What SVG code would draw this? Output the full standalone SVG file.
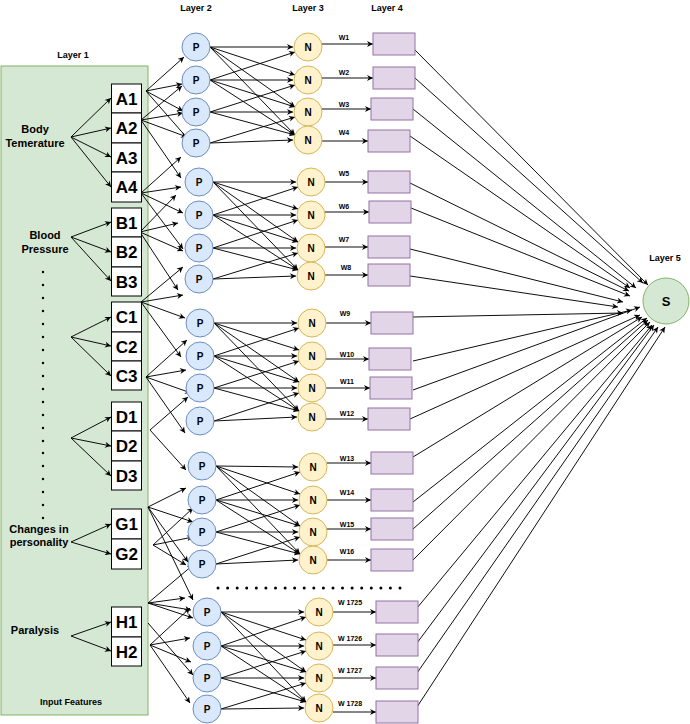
<svg xmlns="http://www.w3.org/2000/svg" width="690" height="724" viewBox="0 0 690 724">
<defs>
<marker id="ar" viewBox="0 0 10 10" refX="10" refY="5" markerWidth="7" markerHeight="6" markerUnits="userSpaceOnUse" orient="auto">
<path d="M0,0 L10,5 L0,10 L3,5 z" fill="#000"/>
</marker>
<style>
text{font-family:"Liberation Sans",Arial,sans-serif;font-weight:bold;fill:#000;text-anchor:middle}
.lt{font-size:9px}
.ft{font-size:11px}
.bx{font-size:17px}
.nd{font-size:10px}
.w{font-size:7px}
.box{fill:#fff;stroke:#000;stroke-width:1}
.p{fill:#dae8fc;stroke:#6c8ebf;stroke-width:1}
.n{fill:#fff2cc;stroke:#d6b656;stroke-width:1}
.r{fill:#e1d5e7;stroke:#9673a6;stroke-width:1}
.s{fill:#d5e8d4;stroke:#82b366;stroke-width:1}
#connectors path{fill:none;stroke:#000;stroke-width:0.95;marker-end:url(#ar)}
.dot{fill:#000}
</style>
</defs>
<rect width="690" height="724" fill="#fff"/>

<g id="layer1-panel">
<rect x="1" y="66" width="147" height="649" class="s"/>
<text class="lt" x="73" y="58">Layer 1</text>
<text class="lt" x="71" y="705">Input Features</text>
</g>
<g id="titles">
<text class="lt" x="196" y="11">Layer 2</text>
<text class="lt" x="308" y="11">Layer 3</text>
<text class="lt" x="387" y="11">Layer 4</text>
<text class="lt" x="665" y="261">Layer 5</text>
</g>

<g id="feature-labels">
<text class="ft" x="35" y="133">Body</text>
<text class="ft" x="35" y="147">Temerature</text>
<text class="ft" x="45" y="239">Blood</text>
<text class="ft" x="45" y="253">Pressure</text>
<text class="ft" x="39" y="533">Changes in</text>
<text class="ft" x="39" y="546">personality</text>
<text class="ft" x="35" y="634">Paralysis</text>
</g>

<g id="vdots">
<circle class="dot" cx="43" cy="272" r="1.2"/><circle class="dot" cx="43" cy="285" r="1.2"/><circle class="dot" cx="43" cy="298" r="1.2"/><circle class="dot" cx="43" cy="311" r="1.2"/><circle class="dot" cx="43" cy="324" r="1.2"/><circle class="dot" cx="43" cy="337" r="1.2"/><circle class="dot" cx="43" cy="350" r="1.2"/><circle class="dot" cx="43" cy="363" r="1.2"/><circle class="dot" cx="43" cy="376" r="1.2"/><circle class="dot" cx="43" cy="389" r="1.2"/><circle class="dot" cx="43" cy="402" r="1.2"/><circle class="dot" cx="43" cy="415" r="1.2"/><circle class="dot" cx="43" cy="428" r="1.2"/><circle class="dot" cx="43" cy="441" r="1.2"/><circle class="dot" cx="43" cy="453" r="1.2"/><circle class="dot" cx="43" cy="466" r="1.2"/><circle class="dot" cx="43" cy="479" r="1.2"/><circle class="dot" cx="43" cy="492" r="1.2"/><circle class="dot" cx="43" cy="505" r="1.2"/><circle class="dot" cx="43" cy="518" r="1.2"/>
</g>
<g id="hdots">
<circle class="dot" cx="218" cy="588" r="1.5"/><circle class="dot" cx="227.6" cy="588" r="1.5"/><circle class="dot" cx="237.2" cy="588" r="1.5"/><circle class="dot" cx="246.7" cy="588" r="1.5"/><circle class="dot" cx="256.3" cy="588" r="1.5"/><circle class="dot" cx="265.9" cy="588" r="1.5"/><circle class="dot" cx="275.5" cy="588" r="1.5"/><circle class="dot" cx="285.1" cy="588" r="1.5"/><circle class="dot" cx="294.6" cy="588" r="1.5"/><circle class="dot" cx="304.2" cy="588" r="1.5"/><circle class="dot" cx="313.8" cy="588" r="1.5"/><circle class="dot" cx="323.4" cy="588" r="1.5"/><circle class="dot" cx="333" cy="588" r="1.5"/><circle class="dot" cx="342.5" cy="588" r="1.5"/><circle class="dot" cx="352.1" cy="588" r="1.5"/><circle class="dot" cx="361.7" cy="588" r="1.5"/><circle class="dot" cx="371.3" cy="588" r="1.5"/><circle class="dot" cx="380.9" cy="588" r="1.5"/><circle class="dot" cx="390.4" cy="588" r="1.5"/><circle class="dot" cx="400" cy="588" r="1.5"/>
</g>

<g id="connectors">
<path d="M71,137 L111,98"/><path d="M71,137 L111,128"/><path d="M71,137 L111,157"/><path d="M71,137 L111,187"/>
<path d="M71,237 L111,222"/><path d="M71,237 L111,252"/><path d="M71,237 L111,281"/>
<path d="M71,337 L111,317"/><path d="M71,337 L111,346"/><path d="M71,337 L111,376"/>
<path d="M71,438 L111,417"/><path d="M71,438 L111,446"/><path d="M71,438 L111,476"/>
<path d="M71,542 L111,524"/><path d="M71,542 L111,554"/>
<path d="M71,636 L111,622"/><path d="M71,636 L111,651"/>
<path d="M146,91 L184,57"/><path d="M146,91 L182,84"/><path d="M146,91 L183,111"/><path d="M146,91 L188,139"/>
<path d="M141,120 L182,86"/><path d="M141,120 L183,113"/><path d="M141,120 L187,137"/><path d="M141,120 L181,178"/>
<path d="M141,193 L181,157"/><path d="M141,193 L181,187"/><path d="M141,193 L183,213"/><path d="M141,193 L183,249"/>
<path d="M140,232 L176,195"/><path d="M140,232 L178,223"/><path d="M140,232 L183,251"/><path d="M140,232 L178,290"/>
<path d="M141,302 L183,267"/><path d="M141,302 L183,295"/><path d="M141,302 L185,318"/><path d="M141,302 L181,357"/>
<path d="M146,377 L187,340"/><path d="M146,377 L186,370"/><path d="M146,377 L191,393"/><path d="M146,377 L185,433"/>
<path d="M150,430 L188,397"/><path d="M150,430 L186,470"/>
<path d="M148,507 L186,488"/><path d="M148,507 L193,522"/><path d="M148,507 L188,562"/><path d="M148,507 L193,600"/>
<path d="M153,545 L193,508"/><path d="M153,545 L193,537"/><path d="M153,545 L186,565"/>
<path d="M148,603 L193,565"/><path d="M148,603 L185,598"/><path d="M148,603 L191,610"/><path d="M148,603 L193,618"/>
<path d="M148,623 L193,675"/>
<path d="M150,645 L190,608"/><path d="M150,645 L190,638"/><path d="M150,645 L191,662"/><path d="M150,645 L190,703"/>
<path d="M210,47 L293,47"/><path d="M210,47 L295,75"/><path d="M210,47 L295,107"/><path d="M210,47 L295,135"/>
<path d="M210,80 L295,52"/><path d="M210,80 L293,80"/><path d="M210,80 L295,107"/><path d="M210,80 L295,135"/>
<path d="M210,112 L295,85"/><path d="M210,112 L293,112"/><path d="M210,112 L295,135"/>
<path d="M210,143 L295,117"/><path d="M210,143 L293,140"/>
<path d="M213,182 L296,182"/><path d="M213,182 L298,209"/><path d="M213,182 L298,242"/><path d="M213,182 L298,270"/>
<path d="M213,215 L298,187"/><path d="M213,215 L296,215"/><path d="M213,215 L298,242"/><path d="M213,215 L298,270"/>
<path d="M213,248 L298,220"/><path d="M213,248 L296,248"/><path d="M213,248 L298,270"/>
<path d="M213,279 L298,253"/><path d="M213,279 L296,276"/>
<path d="M214,323 L297,323"/><path d="M214,323 L299,350"/><path d="M214,323 L299,382"/><path d="M214,323 L299,411"/>
<path d="M214,356 L299,328"/><path d="M214,356 L297,356"/><path d="M214,356 L299,382"/><path d="M214,356 L299,411"/>
<path d="M214,388 L299,361"/><path d="M214,388 L297,388"/><path d="M214,388 L299,411"/>
<path d="M214,421 L299,393"/><path d="M214,421 L297,417"/>
<path d="M216,466 L298,467"/><path d="M216,466 L300,494"/><path d="M216,466 L300,526"/><path d="M216,466 L300,554"/>
<path d="M216,500 L300,472"/><path d="M216,500 L298,500"/><path d="M216,500 L300,526"/><path d="M216,500 L300,554"/>
<path d="M216,532 L300,505"/><path d="M216,532 L298,532"/><path d="M216,532 L300,554"/>
<path d="M216,564 L300,537"/><path d="M216,564 L298,560"/>
<path d="M221,612 L304,612"/><path d="M221,612 L306,640"/><path d="M221,612 L306,672"/><path d="M221,612 L306,702"/>
<path d="M221,646 L306,617"/><path d="M221,646 L304,646"/><path d="M221,646 L306,672"/><path d="M221,646 L306,702"/>
<path d="M221,678 L306,651"/><path d="M221,678 L304,678"/><path d="M221,678 L306,702"/>
<path d="M221,709 L306,683"/><path d="M221,709 L304,708"/>
<path d="M322,44 L373,44"/><path d="M322,78 L373,78"/><path d="M322,109 L371,109"/><path d="M322,141 L368,141"/>
<path d="M325,182 L368,182"/><path d="M325,212 L369,212"/><path d="M325,247 L368,247"/><path d="M325,275 L368,275"/>
<path d="M326,323 L371,323"/><path d="M326,359 L369,359"/><path d="M326,388 L370,388"/><path d="M326,419 L368,419"/>
<path d="M327,463 L371,463"/><path d="M327,500 L371,500"/><path d="M327,529 L371,529"/><path d="M327,560 L371,560"/>
<path d="M333,612 L376,612"/><path d="M333,645 L376,645"/><path d="M333,678 L376,678"/><path d="M333,712 L376,712"/>
<path d="M414,49 L648,285"/><path d="M415,78 L643,283"/><path d="M413,109 L636,288"/><path d="M410,136 L630,288"/>
<path d="M410,183 L629,291"/><path d="M411,208 L630,296"/><path d="M410,249 L623,302"/><path d="M410,276 L618,307"/>
<path d="M413,317 L623,313"/><path d="M413,361 L632,310"/><path d="M413,390 L640,307"/><path d="M410,419 L640,315"/>
<path d="M413,457 L642,317"/><path d="M413,502 L647,318"/><path d="M413,529 L648,320"/><path d="M413,560 L650,322"/>
<path d="M417,608 L652,325"/><path d="M417,643 L654,325"/><path d="M417,673 L658,327"/><path d="M417,707 L665,327"/>
</g>

<g id="inputs">
<g id="A1"><rect class="box" x="111.5" y="84" width="30" height="29"/><text class="bx" x="126.5" y="104.5">A1</text></g>
<g id="A2"><rect class="box" x="111.5" y="113" width="30" height="30"/><text class="bx" x="126.5" y="134">A2</text></g>
<g id="A3"><rect class="box" x="111.5" y="143" width="30" height="29"/><text class="bx" x="126.5" y="163.5">A3</text></g>
<g id="A4"><rect class="box" x="111.5" y="172" width="30" height="30"/><text class="bx" x="126.5" y="193">A4</text></g>
<g id="B1"><rect class="box" x="111.5" y="208" width="30" height="29"/><text class="bx" x="126.5" y="228.5">B1</text></g>
<g id="B2"><rect class="box" x="111.5" y="237" width="30" height="30"/><text class="bx" x="126.5" y="258">B2</text></g>
<g id="B3"><rect class="box" x="111.5" y="267" width="30" height="29"/><text class="bx" x="126.5" y="287.5">B3</text></g>
<g id="C1"><rect class="box" x="111.5" y="302" width="30" height="30"/><text class="bx" x="126.5" y="323">C1</text></g>
<g id="C2"><rect class="box" x="111.5" y="332" width="30" height="29"/><text class="bx" x="126.5" y="352.5">C2</text></g>
<g id="C3"><rect class="box" x="111.5" y="361" width="30" height="29"/><text class="bx" x="126.5" y="381.5">C3</text></g>
<g id="D1"><rect class="box" x="111.5" y="402" width="30" height="29"/><text class="bx" x="126.5" y="422.5">D1</text></g>
<g id="D2"><rect class="box" x="111.5" y="431" width="30" height="30"/><text class="bx" x="126.5" y="452">D2</text></g>
<g id="D3"><rect class="box" x="111.5" y="461" width="30" height="29"/><text class="bx" x="126.5" y="481.5">D3</text></g>
<g id="G1"><rect class="box" x="111.5" y="509" width="30" height="30"/><text class="bx" x="126.5" y="530">G1</text></g>
<g id="G2"><rect class="box" x="111.5" y="539" width="30" height="30"/><text class="bx" x="126.5" y="560">G2</text></g>
<g id="H1"><rect class="box" x="111.5" y="607" width="30" height="30"/><text class="bx" x="126.5" y="628">H1</text></g>
<g id="H2"><rect class="box" x="111.5" y="637" width="30" height="29"/><text class="bx" x="126.5" y="657.5">H2</text></g>
</g>

<g id="layer2">
<g id="P1"><circle class="p" cx="196" cy="47" r="14"/><text class="nd" x="196" y="50.5">P</text></g>
<g id="P2"><circle class="p" cx="196" cy="80" r="14"/><text class="nd" x="196" y="83.5">P</text></g>
<g id="P3"><circle class="p" cx="196" cy="112" r="14"/><text class="nd" x="196" y="115.5">P</text></g>
<g id="P4"><circle class="p" cx="196" cy="143" r="14"/><text class="nd" x="196" y="146.5">P</text></g>
<g id="P5"><circle class="p" cx="199" cy="182" r="14"/><text class="nd" x="199" y="185.5">P</text></g>
<g id="P6"><circle class="p" cx="199" cy="215" r="14"/><text class="nd" x="199" y="218.5">P</text></g>
<g id="P7"><circle class="p" cx="199" cy="248" r="14"/><text class="nd" x="199" y="251.5">P</text></g>
<g id="P8"><circle class="p" cx="199" cy="279" r="14"/><text class="nd" x="199" y="282.5">P</text></g>
<g id="P9"><circle class="p" cx="200" cy="323" r="14"/><text class="nd" x="200" y="326.5">P</text></g>
<g id="P10"><circle class="p" cx="200" cy="356" r="14"/><text class="nd" x="200" y="359.5">P</text></g>
<g id="P11"><circle class="p" cx="200" cy="388" r="14"/><text class="nd" x="200" y="391.5">P</text></g>
<g id="P12"><circle class="p" cx="200" cy="421" r="14"/><text class="nd" x="200" y="424.5">P</text></g>
<g id="P13"><circle class="p" cx="202" cy="466" r="14"/><text class="nd" x="202" y="469.5">P</text></g>
<g id="P14"><circle class="p" cx="202" cy="500" r="14"/><text class="nd" x="202" y="503.5">P</text></g>
<g id="P15"><circle class="p" cx="202" cy="532" r="14"/><text class="nd" x="202" y="535.5">P</text></g>
<g id="P16"><circle class="p" cx="202" cy="564" r="14"/><text class="nd" x="202" y="567.5">P</text></g>
<g id="P17"><circle class="p" cx="207" cy="612" r="14"/><text class="nd" x="207" y="615.5">P</text></g>
<g id="P18"><circle class="p" cx="207" cy="646" r="14"/><text class="nd" x="207" y="649.5">P</text></g>
<g id="P19"><circle class="p" cx="207" cy="678" r="14"/><text class="nd" x="207" y="681.5">P</text></g>
<g id="P20"><circle class="p" cx="207" cy="709" r="14"/><text class="nd" x="207" y="712.5">P</text></g>
</g>

<g id="layer3">
<g id="N1"><circle class="n" cx="308" cy="47" r="14"/><text class="nd" x="308" y="50.5">N</text></g>
<g id="N2"><circle class="n" cx="308" cy="80" r="14"/><text class="nd" x="308" y="83.5">N</text></g>
<g id="N3"><circle class="n" cx="308" cy="112" r="14"/><text class="nd" x="308" y="115.5">N</text></g>
<g id="N4"><circle class="n" cx="308" cy="140" r="14"/><text class="nd" x="308" y="143.5">N</text></g>
<g id="N5"><circle class="n" cx="311" cy="182" r="14"/><text class="nd" x="311" y="185.5">N</text></g>
<g id="N6"><circle class="n" cx="311" cy="215" r="14"/><text class="nd" x="311" y="218.5">N</text></g>
<g id="N7"><circle class="n" cx="311" cy="248" r="14"/><text class="nd" x="311" y="251.5">N</text></g>
<g id="N8"><circle class="n" cx="311" cy="276" r="14"/><text class="nd" x="311" y="279.5">N</text></g>
<g id="N9"><circle class="n" cx="312" cy="323" r="14"/><text class="nd" x="312" y="326.5">N</text></g>
<g id="N10"><circle class="n" cx="312" cy="356" r="14"/><text class="nd" x="312" y="359.5">N</text></g>
<g id="N11"><circle class="n" cx="312" cy="388" r="14"/><text class="nd" x="312" y="391.5">N</text></g>
<g id="N12"><circle class="n" cx="312" cy="417" r="14"/><text class="nd" x="312" y="420.5">N</text></g>
<g id="N13"><circle class="n" cx="313" cy="467" r="14"/><text class="nd" x="313" y="470.5">N</text></g>
<g id="N14"><circle class="n" cx="313" cy="500" r="14"/><text class="nd" x="313" y="503.5">N</text></g>
<g id="N15"><circle class="n" cx="313" cy="532" r="14"/><text class="nd" x="313" y="535.5">N</text></g>
<g id="N16"><circle class="n" cx="313" cy="560" r="14"/><text class="nd" x="313" y="563.5">N</text></g>
<g id="N17"><circle class="n" cx="319" cy="612" r="14"/><text class="nd" x="319" y="615.5">N</text></g>
<g id="N18"><circle class="n" cx="319" cy="646" r="14"/><text class="nd" x="319" y="649.5">N</text></g>
<g id="N19"><circle class="n" cx="319" cy="678" r="14"/><text class="nd" x="319" y="681.5">N</text></g>
<g id="N20"><circle class="n" cx="319" cy="708" r="14"/><text class="nd" x="319" y="711.5">N</text></g>
</g>

<g id="weights">
<text class="w" x="344" y="39.5">W1</text><text class="w" x="344" y="74.5">W2</text><text class="w" x="344" y="106.5">W3</text><text class="w" x="344" y="134.5">W4</text>
<text class="w" x="344" y="175.5">W5</text><text class="w" x="344" y="208.5">W6</text><text class="w" x="344" y="241.5">W7</text><text class="w" x="346" y="269.5">W8</text>
<text class="w" x="345" y="315.5">W9</text><text class="w" x="347" y="356.5">W10</text><text class="w" x="347" y="383.5">W11</text><text class="w" x="347" y="415.5">W12</text>
<text class="w" x="347" y="460.5">W13</text><text class="w" x="347" y="494.5">W14</text><text class="w" x="347" y="526.5">W15</text><text class="w" x="347" y="553.5">W16</text>
<text class="w" x="350" y="604.5">W 1725</text><text class="w" x="350" y="640.5">W 1726</text><text class="w" x="350" y="672.5">W 1727</text><text class="w" x="350" y="705.5">W 1728</text>
</g>

<g id="layer4">
<rect id="R1" class="r" x="373" y="33" width="42" height="22"/>
<rect id="R2" class="r" x="373" y="67" width="42" height="22"/>
<rect id="R3" class="r" x="371" y="98" width="42" height="22"/>
<rect id="R4" class="r" x="368" y="130" width="42" height="22"/>
<rect id="R5" class="r" x="368" y="171" width="42" height="22"/>
<rect id="R6" class="r" x="369" y="201" width="42" height="22"/>
<rect id="R7" class="r" x="368" y="236" width="42" height="22"/>
<rect id="R8" class="r" x="368" y="264" width="42" height="22"/>
<rect id="R9" class="r" x="371" y="312" width="42" height="22"/>
<rect id="R10" class="r" x="369" y="348" width="42" height="22"/>
<rect id="R11" class="r" x="370" y="377" width="42" height="22"/>
<rect id="R12" class="r" x="368" y="408" width="42" height="22"/>
<rect id="R13" class="r" x="371" y="452" width="42" height="22"/>
<rect id="R14" class="r" x="371" y="489" width="42" height="22"/>
<rect id="R15" class="r" x="371" y="518" width="42" height="22"/>
<rect id="R16" class="r" x="371" y="549" width="42" height="22"/>
<rect id="R17" class="r" x="376" y="601" width="42" height="22"/>
<rect id="R18" class="r" x="376" y="634" width="42" height="22"/>
<rect id="R19" class="r" x="376" y="667" width="42" height="22"/>
<rect id="R20" class="r" x="376" y="701" width="42" height="22"/>
</g>

<g id="S">
<circle class="s" cx="666" cy="301" r="23"/>
<text x="666" y="306" style="font-size:13px">S</text>
</g>
</svg>
